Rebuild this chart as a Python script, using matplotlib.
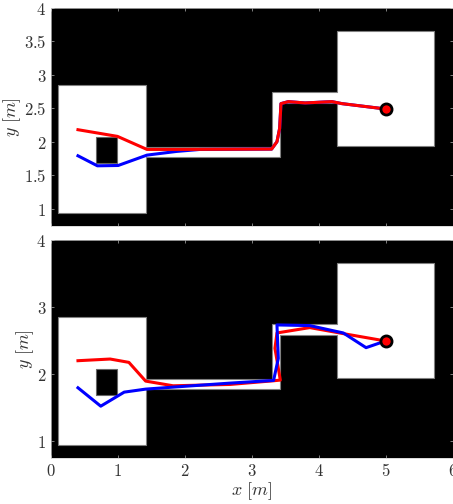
import matplotlib
matplotlib.use('Agg')
import matplotlib.pyplot as plt

plt.rcParams['mathtext.fontset'] = 'cm'

# free space outline (m)
free_x = [0.11, 1.43, 1.43, 3.31, 3.31, 4.28, 4.28, 5.72, 5.72, 4.28, 4.28, 3.42, 3.42, 1.43, 1.43, 0.11]
free_y = [2.85, 2.85, 1.92, 1.92, 2.74, 2.74, 3.65, 3.65, 1.94, 1.94, 2.58, 2.58, 1.77, 1.77, 0.93, 0.93]
obs_x = [0.68, 0.99, 0.99, 0.68]
obs_y = [1.68, 1.68, 2.07, 2.07]

goal = (5.0, 2.49)

top_blue_x = [0.41, 0.70, 1.01, 1.44, 1.88, 2.23, 3.30, 3.38, 3.42, 3.44, 3.55, 3.80, 4.20, 4.35, 5.0]
top_blue_y = [1.79, 1.64, 1.645, 1.80, 1.855, 1.885, 1.89, 2.00, 2.20, 2.57, 2.60, 2.58, 2.60, 2.57, 2.49]
top_red_x = [0.41, 1.0, 1.44, 1.88, 3.30, 3.38, 3.42, 3.44, 3.55, 3.80, 4.20, 4.35, 5.0]
top_red_y = [2.18, 2.08, 1.885, 1.885, 1.89, 2.00, 2.20, 2.57, 2.60, 2.58, 2.60, 2.57, 2.49]

bot_red_x = [0.41, 0.89, 1.17, 1.42, 1.83, 2.68, 3.33, 3.43, 3.35, 3.38, 3.87, 4.37, 5.0]
bot_red_y = [2.195, 2.22, 2.17, 1.89, 1.82, 1.84, 1.895, 1.905, 2.38, 2.61, 2.69, 2.60, 2.49]
bot_blue_x = [0.41, 0.75, 1.10, 1.42, 1.83, 2.68, 3.33, 3.40, 3.38, 3.87, 4.37, 4.71, 5.0]
bot_blue_y = [1.79, 1.515, 1.725, 1.77, 1.80, 1.86, 1.90, 2.23, 2.73, 2.72, 2.61, 2.39, 2.49]


def draw_map(ax, blue_x, blue_y, red_x, red_y, order):
    ax.set_facecolor('black')
    ax.fill(free_x, free_y, facecolor='white', edgecolor='0.5', lw=0.8)
    ax.fill(obs_x, obs_y, facecolor='black', edgecolor='0.4', lw=0.8)
    if order == 'red_top':
        ax.plot(blue_x, blue_y, color='#0000ff', lw=2.2)
        ax.plot(red_x, red_y, color='#ff0000', lw=2.2)
    else:
        ax.plot(red_x, red_y, color='#ff0000', lw=2.2)
        ax.plot(blue_x, blue_y, color='#0000ff', lw=2.2)
    ax.plot(*goal, 'o', ms=8, mfc='#ff0000', mec='black', mew=2)
    ax.set_xlim(0, 6)
    ax.set_ylim(0.74, 4)
    ax.tick_params(direction='in', length=2, width=0.5, color='0.7', top=True, right=True,
                   labelsize=12, labelcolor='0.2', pad=3)
    for s in ax.spines.values():
        s.set_color('0.8')
        s.set_linewidth(0.5)
    ax.set_ylabel('$y\\ [m]$', fontsize=13, color='0.2')


fig = plt.figure(figsize=(4.53, 5.04), dpi=100)
ax1 = fig.add_axes([50.5 / 453, 1 - 226 / 504, 402 / 453, 218 / 504])
ax2 = fig.add_axes([50.5 / 453, 1 - 458 / 504, 402 / 453, 218 / 504])

draw_map(ax1, top_blue_x, top_blue_y, top_red_x, top_red_y, 'red_top')
ax1.set_yticks([1, 1.5, 2, 2.5, 3, 3.5, 4])
ax1.set_yticklabels(['$1$', '$1.5$', '$2$', '$2.5$', '$3$', '$3.5$', '$4$'])
ax1.set_xticks(range(7))
ax1.set_xticklabels([])
ax1.yaxis.set_label_coords(-0.068, 0.5)

draw_map(ax2, bot_blue_x, bot_blue_y, bot_red_x, bot_red_y, 'blue_top')
ax2.set_yticks([1, 2, 3, 4])
ax2.set_yticklabels(['$1$', '$2$', '$3$', '$4$'])
ax2.set_xticks(range(7))
ax2.set_xticklabels([f'${i}$' for i in range(7)])
ax2.set_xlabel('$x\\ [m]$', fontsize=13, color='0.2', labelpad=0)
ax2.yaxis.set_label_coords(-0.036, 0.5)

fig.savefig('out.png', dpi=100)
